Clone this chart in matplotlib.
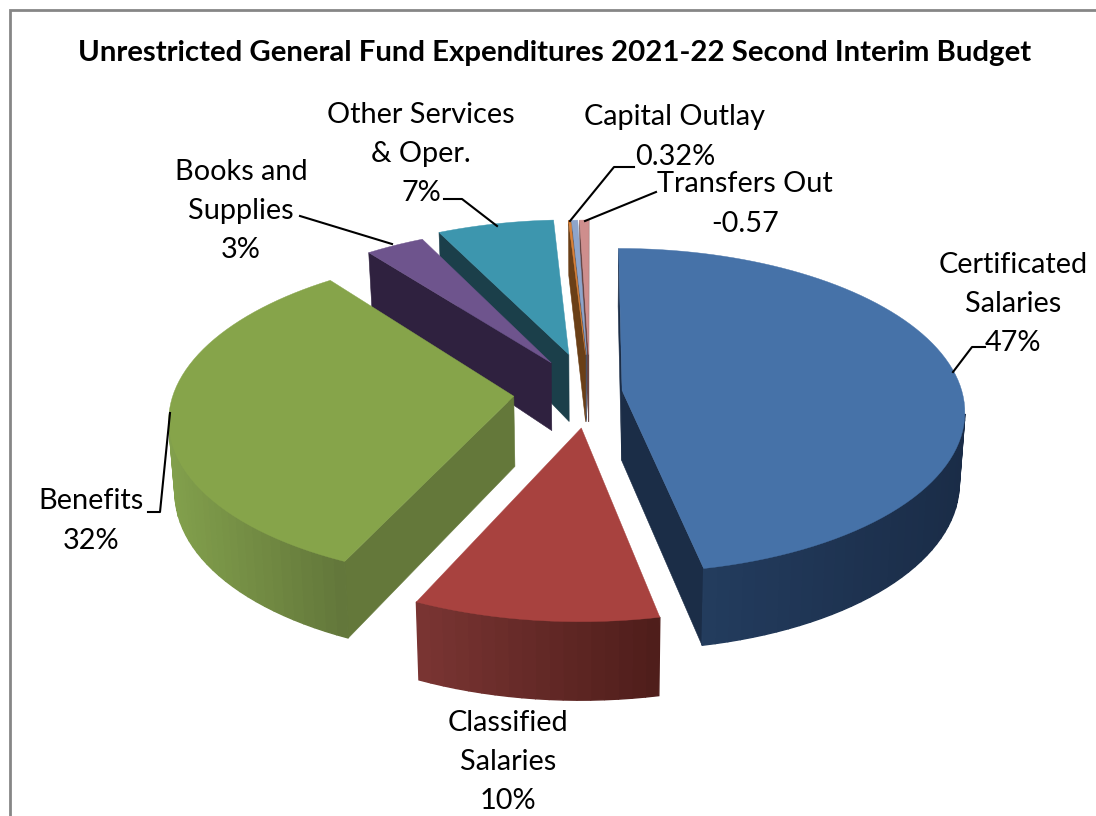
import numpy as np
import matplotlib
matplotlib.use("Agg")
import matplotlib.pyplot as plt
from matplotlib.patches import Polygon

# ---- data ----
categories = ["Certificated Salaries", "Classified Salaries", "Benefits", "Books and Supplies",
              "Other Services & Oper.", "Capital Outlay", "Other", "Transfers Out"]
shares = [46.8, 10.0, 32.7, 3.2, 6.35, 0.12, 0.33, 0.5]
explode = [0.095, 0.22, 0.225, 0.22, 0.25, 0.24, 0.24, 0.24]
title = "Unrestricted General Fund Expenditures 2021-22 Second Interim Budget"
label_text = ["Certificated\nSalaries\n47%", "Classified\nSalaries\n10%", "Benefits\n32%",
              "Books and\nSupplies\n3%", "Other Services\n& Oper.\n7%", "Capital Outlay\n0.32%",
              "Transfers Out\n-0.57"]
label_pos = [(1013, 304), (508, 762), (91, 521), (241, 211), (421, 154), (675, 137), (745, 204)]
leaders = [[(953, 372), (972, 347), (985, 347)],
           [(170, 413), (160, 512), (148, 512)],
           [(392, 244), (300, 216)],
           [(497, 226), (462, 199), (444, 199)],
           [(570, 221), (614, 167), (634, 167)],
           [(585, 221), (656, 192)]]

top_colors = ["#4672A8", "#A8423F", "#86A44A", "#6E548D", "#3D96AE", "#DA8137", "#8EA5CB", "#CE8E8D"]
face_colors = ["#1B2D47", "#4F1E1B", "#64783A", "#2F213F", "#1B3F4A", "#6A3F17", "#46526A", "#674645"]
rim_left = ["#233C5E", "#7A3533", "#82A04C", "#2F213F", "#1B3F4A", "#6A3F17", "#46526A", "#674645"]
rim_right = ["#1A2C47", "#4E1D1A", "#62763A", "#2F213F", "#1B3F4A", "#6A3F17", "#46526A", "#674645"]

# ---- projection ----
CX, CY, RX, RY, PERSP = 590, 392, 340, 160, 0.124


def project(u, v, bottom=False):
    s = 1 / (1 + PERSP * v)
    x = CX + RX * u * s
    y = CY - RY * v * s
    if bottom:
        x = CX + (x - CX) * 0.985
        y = y + (70 - 12 * v if v > 0 else 70 - 7 * v)
    return x, y


plt.rcParams["font.family"] = ["Lato", "DejaVu Sans"]
fig = plt.figure(figsize=(10.96, 8.16), dpi=100)
ax = fig.add_axes([0, 0, 1, 1])
ax.set_xlim(0, 1096)
ax.set_ylim(816, 0)
ax.axis("off")

# chart frame
ax.plot([9.5, 9.5, 1096], [816, 9.5, 9.5], color="#868686", lw=2, solid_capstyle="butt",
        solid_joinstyle="miter")


def mix(c1, c2, t):
    a, b = np.array(matplotlib.colors.to_rgb(c1)), np.array(matplotlib.colors.to_rgb(c2))
    return tuple(a + (b - a) * t)


total = sum(shares)
edges = np.concatenate([[0], np.cumsum(shares)]) / total * 2 * np.pi

slices = []
for i in range(len(shares)):
    a0, a1 = edges[i], edges[i + 1]
    mid = (a0 + a1) / 2
    ou, ov = explode[i] * np.sin(mid), explode[i] * np.cos(mid)
    slices.append((project(ou, ov)[1], i, a0, a1, ou, ov))

for _, i, a0, a1, ou, ov in sorted(slices):
    n = max(3, int(np.degrees(a1 - a0) / 2))
    th = np.linspace(a0, a1, n + 1)
    pts_u, pts_v = ou + np.sin(th), ov + np.cos(th)
    top = [project(u, v) for u, v in zip(pts_u, pts_v)]
    bot = [project(u, v, True) for u, v in zip(pts_u, pts_v)]
    apex_t, apex_b = project(ou, ov), project(ou, ov, True)
    # cut faces
    if top[0][0] < apex_t[0]:
        ax.add_patch(Polygon([apex_t, top[0], bot[0], apex_b], fc=face_colors[i], ec=face_colors[i], lw=0.4, zorder=2))
    if top[-1][0] > apex_t[0]:
        ax.add_patch(Polygon([apex_t, top[-1], bot[-1], apex_b], fc=face_colors[i], ec=face_colors[i], lw=0.4, zorder=2))
    # outer rim, shaded from left to right
    vis = [k for k in range(n) if top[k + 1][0] < top[k][0]]
    if vis:
        xs = [top[k][0] for k in vis] + [top[k + 1][0] for k in vis]
        lo, hi = min(xs), max(xs)
        for k in vis:
            t = ((top[k][0] + top[k + 1][0]) / 2 - lo) / max(hi - lo, 1e-6)
            c = mix(rim_left[i], rim_right[i], t)
            ax.add_patch(Polygon([top[k], top[k + 1], bot[k + 1], bot[k]], fc=c, ec=c, lw=1.0, zorder=2))
    ax.add_patch(Polygon([apex_t] + top, fc=top_colors[i], ec=top_colors[i], lw=0.3, zorder=2))

ax.text(555, 53, title, ha="center", va="center", fontsize=21.2, fontweight="bold", color="black")
for s, (x, y) in zip(label_text, label_pos):
    ax.text(x, y, s, ha="center", va="center", fontsize=20.8, color="black", linespacing=1.62)
for path in leaders:
    xs, ys = zip(*path)
    ax.plot(xs, ys, color="black", lw=1.5, zorder=3)

fig.savefig("out.png", dpi=100, facecolor="white")
